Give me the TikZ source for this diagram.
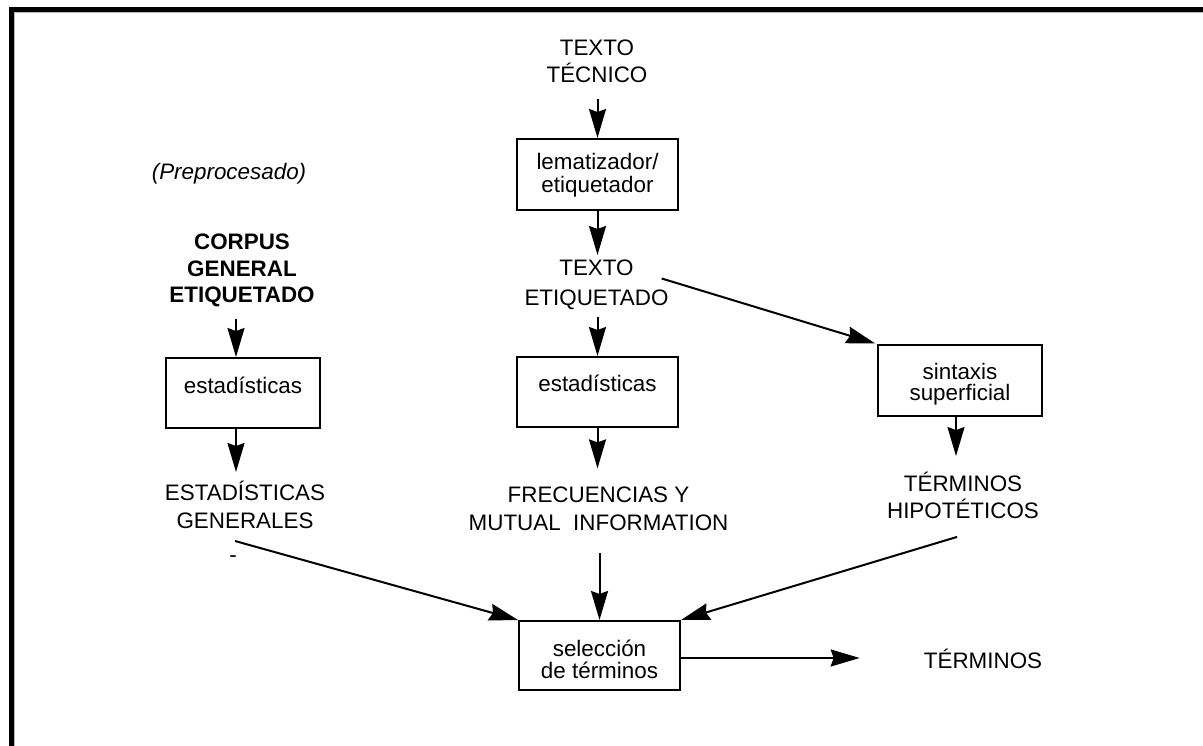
\documentclass[tikz,border=0pt]{standalone}
\usepackage{fontspec}
\setmainfont{Liberation Sans}
\usetikzlibrary{arrows.meta,calc}
\newcommand\ml[2]{\fontsize{22.4}{#1}\selectfont\begin{tabular}[t]{@{}c@{}}#2\end{tabular}}
\begin{document}
\begin{tikzpicture}[x=1pt,y=-1pt,
  lbl/.style={inner sep=0pt, anchor=base},
  box/.style={draw, line width=2pt, inner sep=0pt, minimum width=161pt, minimum height=70pt},
  arr/.style={line width=2pt, -{Stealth[length=29pt,width=17pt,inset=3pt]}}]
\useasboundingbox (0,0) rectangle (1203,746);
\fill[white] (0,0) rectangle (1203,746);
% frame
\draw[gray!55, line width=1pt] (14,12.8) -- (1203,12.8);
\draw[gray!55, line width=1pt] (14.4,12.8) -- (14.4,746);
\draw[line width=5pt] (11.25,746) -- (11.25,9.5) -- (1203,9.5);
% nodes
\node[lbl] (tt) at (597,55.7) {\ml{26}{TEXTO\\TÉCNICO}};
\node[box, text height=10pt, text depth=19pt, minimum height=71pt] (lem) at (597.5,174.5) {\ml{21.7}{lematizador/\\etiquetador}};
\node[lbl] (tetiq) at (596.5,275.7) {\ml{29.3}{TEXTO\\ETIQUETADO}};
\node[box, text height=10pt, text depth=10.6pt] (est2) at (597.5,392) {\ml{26}{estadísticas}};
\node[lbl] (freq) at (598.5,502.7) {\ml{27.3}{FRECUENCIAS Y\\MUTUAL\ \ INFORMATION}};
\node[box, text height=12.4pt, text depth=10pt, minimum height=69pt] (sel) at (599.5,655.5) {\ml{18.3}{selección\\de términos}};
\node[lbl] (term) at (983,668.3) {\ml{26}{TÉRMINOS}};
\node[box, minimum width=164pt, minimum height=71pt, text height=10pt, text depth=13pt] (sint) at (960,380.5) {\ml{18.7}{sintaxis\\superficial}};
\node[lbl] (hyp) at (963,491.7) {\ml{26}{TÉRMINOS\\HIPOTÉTICOS}};
\node[lbl] (corpus) at (242,250) {\bfseries\ml{26.5}{CORPUS\\GENERAL\\ETIQUETADO}};
\node[box, minimum width=154pt, text height=10pt, text depth=10pt] (est1) at (243,393) {\ml{26}{estadísticas}};
\node[lbl] (estgen) at (245,500) {\ml{28.3}{ESTADÍSTICAS\\GENERALES}};
\node[lbl] (dash) at (233,562) {\ml{26}{-}};
\node[lbl] (prep) at (229,180) {\itshape\ml{26}{(Preprocesado)}};
% connectors
\coordinate (lx) at (236,0);
\coordinate (selout) at ($(sel.east)+(0,2.5)$);
\draw[arr, shorten <=8.5pt] (lem.north |- tt.south) -- (lem.north);
\draw[arr] (lem.south) -- (lem.south |- tetiq.north);
\draw[arr, shorten <=3pt] (est2.north |- tetiq.south) -- (est2.north);
\draw[arr, shorten >=15pt] (est2.south) -- (est2.south |- freq.north);
\draw[arr, shorten <=15pt] (sel.north |- freq.south) -- (sel.north);
\draw[arr, shorten >=64pt] (selout) -- (selout -| term.west);
\draw[arr, shorten >=2pt] ($(tetiq.east)+(-7,-6)$) -- (sint.north west);
\draw[arr, shorten >=16pt] ($(sint.south)+(-4,0)$) -- ($(sint.south |- hyp.north)+(-4,0)$);
\draw[arr, shorten <=8pt] (corpus.south -| lx) -- (est1.north -| lx);
\draw[arr, shorten >=8pt] (est1.south -| lx) -- (estgen.north -| lx);
\draw[arr] ($(estgen.south)+(-10,4)$) -- (sel.north west);
\draw[arr] ($(hyp.south)+(-6,10)$) -- (sel.north east);
\end{tikzpicture}
\end{document}
